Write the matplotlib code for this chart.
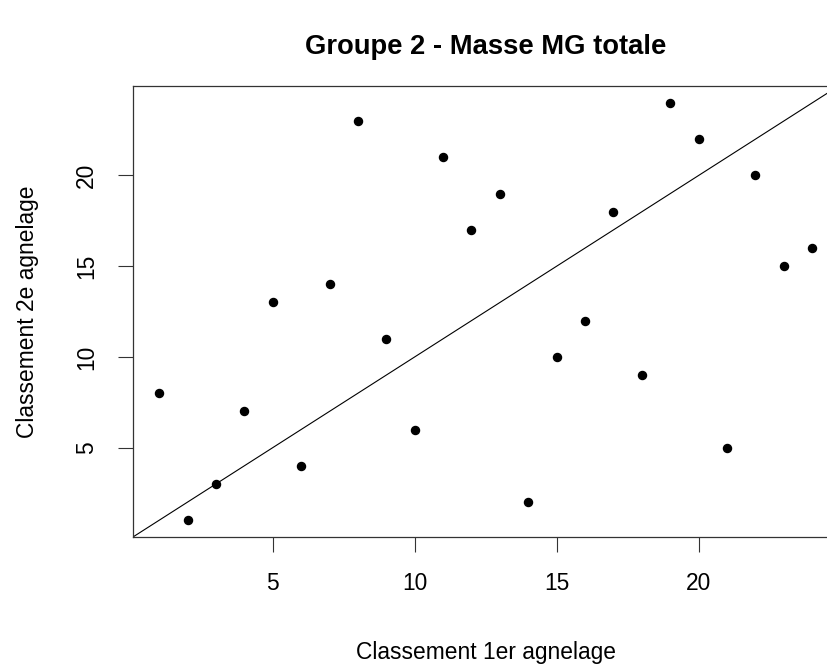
import numpy as np
import matplotlib.pyplot as plt

plt.rcParams['font.family'] = ['Liberation Sans', 'DejaVu Sans']

# rank in 1st lambing vs rank in 2nd lambing
rang_1er = [1, 2, 3, 4, 5, 6, 7, 8, 9, 10, 11, 12,
            13, 14, 15, 16, 17, 18, 19, 20, 21, 22, 23, 24]
rang_2e = [8, 1, 3, 7, 13, 4, 14, 23, 11, 6, 21, 17,
           19, 2, 10, 12, 18, 9, 24, 22, 5, 20, 15, 16]
ticks = [5, 10, 15, 20]

fig = plt.figure(figsize=(8.27, 6.64), dpi=100)
# plot region runs past the right edge (cropped like the original)
ax = fig.add_axes([0.1608, 0.1913, 0.853, 0.679])

ax.plot(rang_1er, rang_2e, 'o', color='black', markersize=5.8)
ax.axline((0, 0), slope=1, color='black', lw=0.8)

ax.set_xlim(0.08, 24.92)
ax.set_ylim(0.08, 24.92)
ax.set_xticks(ticks)
ax.set_yticks(ticks)
ax.set_yticklabels([str(t) for t in ticks], rotation=90, va='center')

ax.tick_params(length=11, width=0.8, pad=14, labelsize=16.4, color='#333333')
for sp in ax.spines.values():
    sp.set_linewidth(0.9)
    sp.set_color('#333333')

ax.set_xlabel('Classement 1er agnelage', fontsize=16.4, labelpad=33)
ax.set_ylabel('Classement 2e agnelage', fontsize=16.4, labelpad=26)
ax.set_title('Groupe 2 - Masse MG totale', fontsize=19.7, fontweight='bold', pad=23)

fig.savefig('out.png', dpi=100)
